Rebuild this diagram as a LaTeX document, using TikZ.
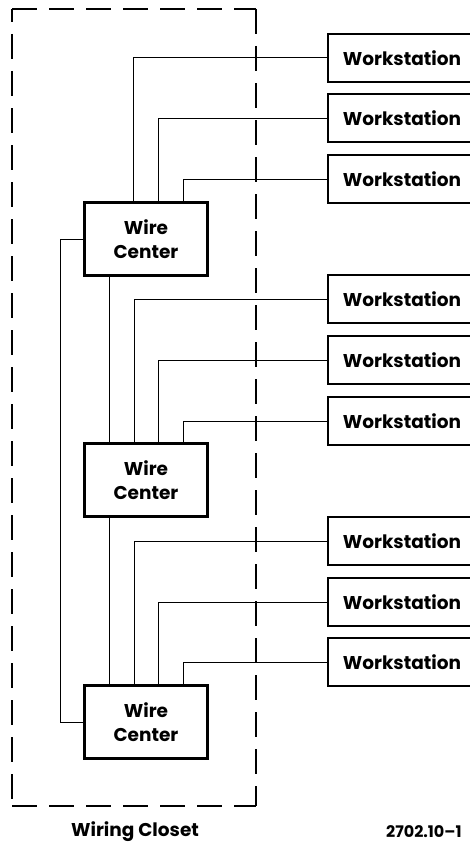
\documentclass[tikz,border=0pt]{standalone}
\usepackage{fontspec}
\setmainfont{Poppins}
\begin{document}
\begin{tikzpicture}[x=1pt,y=-1pt,
  wire/.style={line width=1pt},
  txt/.style={font=\bfseries\fontsize{18.5}{24}\selectfont},
  wcbox/.style={draw,line width=2.4pt,minimum width=123pt,minimum height=73pt,align=center,inner sep=0pt,txt},
  wsbox/.style={draw,line width=2.4pt,minimum width=152pt,minimum height=48pt,inner sep=0pt,txt},
  closet/.style={draw,line width=1.3pt,dash pattern=on 25pt off 12pt}]
\clip (0,0) rectangle (470,843);
\fill[white] (0,0) rectangle (470,843);
% closet
\draw[closet] (12,9) -- (256,9);
\draw[closet] (256,9) -- (256,806);
\draw[closet,dash phase=12pt] (12,9) -- (12,806);
\draw[closet] (12,806) -- (256,806);
% wire centers
\node[wcbox] (wc1) at (146,239) {Wire\\Center};
\node[wcbox] (wc2) at (146,480) {Wire\\Center};
\node[wcbox] (wc3) at (146,722) {Wire\\Center};
% workstations
\foreach \n/\y in {1/58,2/118,3/179,4/299,5/360,6/421,7/541,8/602,9/662}
  \node[wsbox] (ws\n) at (404,\y) {\hspace*{-4pt}Workstation};
% wires group 1
\draw[wire] ([xshift=-13pt]wc1.north) |- (ws1.west);
\draw[wire] ([xshift=12pt]wc1.north) |- (ws2.west);
\draw[wire] ([xshift=37pt]wc1.north) |- (ws3.west);
% group 2
\draw[wire] ([xshift=-12pt]wc2.north) |- (ws4.west);
\draw[wire] ([xshift=12pt]wc2.north) |- (ws5.west);
\draw[wire] ([xshift=37pt]wc2.north) |- (ws6.west);
% group 3
\draw[wire] ([xshift=-12pt]wc3.north) |- (ws7.west);
\draw[wire] ([xshift=12pt]wc3.north) |- (ws8.west);
\draw[wire] ([xshift=37pt]wc3.north) |- (ws9.west);
% backbone
\draw[wire] ([xshift=-37pt]wc1.south) -- ([xshift=-37pt]wc2.north);
\draw[wire] ([xshift=-37pt]wc2.south) -- ([xshift=-37pt]wc3.north);
\draw[wire] (wc1.west) -- ++(-23,0) |- (wc3.west);
% labels
\node[txt] (closetlabel) at (135,832) {Wiring Closet};
\node[font=\bfseries\fontsize{16}{20}\selectfont,anchor=west,inner sep=0pt] (fig) at (386,832) {2702.10–1};
\end{tikzpicture}
\end{document}
